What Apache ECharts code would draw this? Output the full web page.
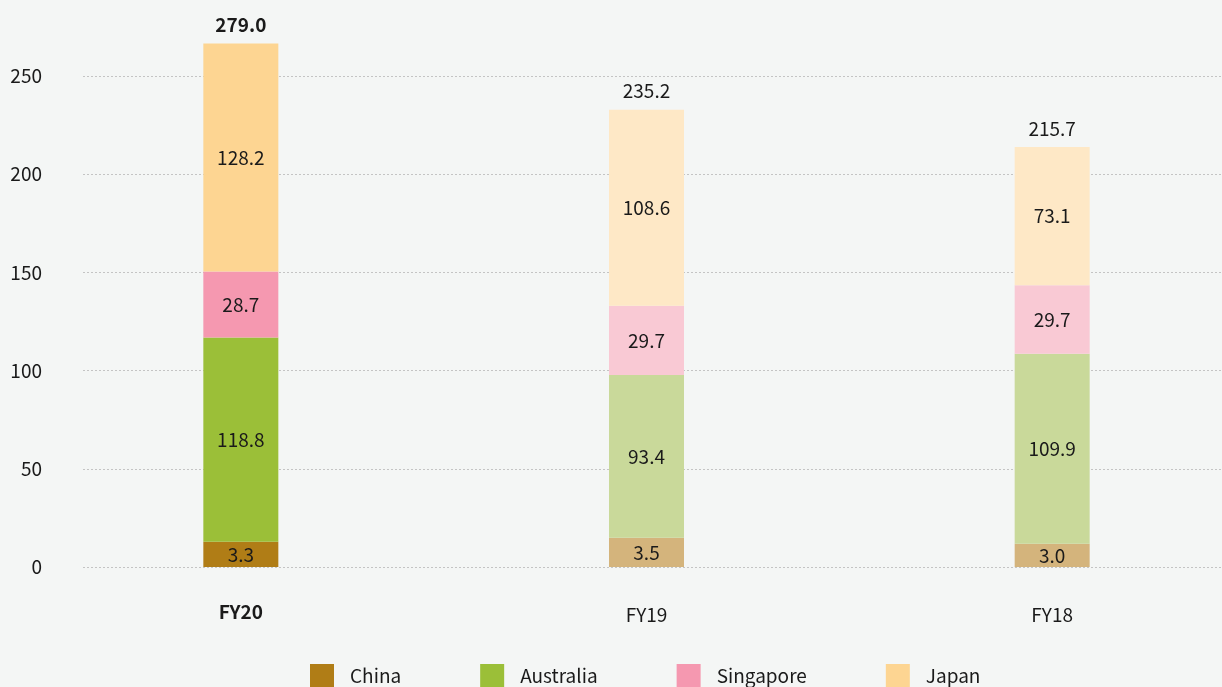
<!DOCTYPE html>
<html>
<head>
<meta charset="utf-8">
<script src="https://cdn.jsdelivr.net/npm/echarts@6/dist/echarts.min.js"></script>
<style>
    html, body { margin: 0; padding: 0; background: #f4f6f5; }
    #chart { width: 1222px; height: 687px; }
</style>
</head>
<body>
<div id="chart"></div>
<script>
    // categories (first one is highlighted)
    const years = ['FY20', 'FY19', 'FY18'];
    const regions = ['China', 'Australia', 'Singapore', 'Japan'];

    // segment heights as drawn in the picture
    const chinaBar = [12.9, 14.9, 11.9];
    const australiaBar = [103.9, 82.8, 96.7];
    const singaporeBar = [33.6, 35.3, 34.8];
    const japanBar = [116.1, 99.8, 70.5];

    // values printed on the segments
    const chinaLabel = [3.3, 3.5, 3.0];
    const australiaLabel = [118.8, 93.4, 109.9];
    const singaporeLabel = [28.7, 29.7, 29.7];
    const japanLabel = [128.2, 108.6, 73.1];

    // y axis ticks
    const yTicks = [0, 50, 100, 150, 200, 250];

    const strongColors = ['#b07d16', '#9bbf38', '#f598b0', '#fdd592'];
    const lightColors = ['#d4b47c', '#c9d99a', '#f9c9d4', '#fee8c6'];
    const fontName = 'Noto Sans CJK SC';

    const bars = [chinaBar, australiaBar, singaporeBar, japanBar];
    const labels = [chinaLabel, australiaLabel, singaporeLabel, japanLabel];
    // totals = sum of printed values
    const totals = years.map((y, i) => labels.reduce((s, arr) => s + arr[i], 0));

    let myChart = echarts.init(document.getElementById('chart'));

    let series = regions.map((name, k) => ({
        name: name,
        type: 'bar',
        stack: 'total',
        xAxisIndex: 1,
        yAxisIndex: 1,
        barWidth: 75,
        clip: false,
        itemStyle: { color: strongColors[k] },
        data: bars[k].map((v, i) => ({
            value: v,
            itemStyle: { color: i === 0 ? strongColors[k] : lightColors[k] }
        })),
        label: {
            show: true,
            position: 'inside',
            color: '#1a1a1a',
            fontFamily: fontName,
            fontSize: 19,
            formatter: p => labels[k][p.dataIndex].toFixed(1)
        },
        emphasis: { disabled: true }
    }));

    // helper series only for the total on top
    series.push({
        name: 'total',
        type: 'bar',
        stack: 'total',
        xAxisIndex: 1,
        yAxisIndex: 1,
        barWidth: 75,
        clip: false,
        data: totals.map(() => 0),
        itemStyle: { color: 'transparent' },
        label: {
            show: true,
            position: 'top',
            distance: 9,
            color: '#1a1a1a',
            fontFamily: fontName,
            fontSize: 19,
            formatter: p => p.dataIndex === 0
                ? '{b|' + totals[p.dataIndex].toFixed(1) + '}'
                : totals[p.dataIndex].toFixed(1),
            rich: {
                b: { fontWeight: 'bold', fontFamily: fontName, fontSize: 19, color: '#1a1a1a' }
            }
        },
        emphasis: { disabled: true }
    });

    let option = {
        backgroundColor: '#f4f6f5',
        animation: false,
        textStyle: { fontFamily: fontName },
        legend: {
            data: regions,
            left: 310,
            top: 664,
            padding: 0,
            itemWidth: 24,
            itemHeight: 24,
            itemGap: 79,
            icon: 'rect',
            selectedMode: false,
            textStyle: {
                color: '#1a1a1a',
                fontFamily: fontName,
                fontSize: 19,
                padding: [0, 0, 0, 11]
            }
        },
        grid: [
            { left: 83, right: 0, top: 76, bottom: 120, outerBoundsMode: 'none' },
            { left: 38, width: 1217, top: 76, bottom: 120, outerBoundsMode: 'none' }
        ],
        xAxis: [
            { type: 'category', gridIndex: 0, data: years, show: false },
            {
                type: 'category',
                gridIndex: 1,
                data: years,
                axisLine: { show: false },
                axisTick: { show: false },
                axisLabel: {
                    margin: 35,
                    formatter: (v, i) => i === 0 ? '{b|' + v + '}' : '{n|' + v + '}',
                    rich: {
                        b: { fontWeight: 'bold', fontSize: 19, lineHeight: 19, color: '#1a1a1a', fontFamily: fontName },
                        n: { fontSize: 19, lineHeight: 26, color: '#1a1a1a', fontFamily: fontName }
                    }
                }
            }
        ],
        yAxis: [
            {
                type: 'value',
                gridIndex: 0,
                min: yTicks[0],
                max: yTicks[yTicks.length - 1],
                interval: yTicks[1] - yTicks[0],
                axisLine: { show: false },
                axisTick: { show: false },
                axisLabel: {
                    margin: 41,
                    color: '#1a1a1a',
                    fontFamily: fontName,
                    fontSize: 19
                },
                splitLine: {
                    lineStyle: { color: '#c4c4c4', type: [2, 2], width: 1 }
                }
            },
            {
                type: 'value',
                gridIndex: 1,
                min: yTicks[0],
                max: yTicks[yTicks.length - 1],
                interval: yTicks[1] - yTicks[0],
                show: false,
                splitLine: { show: false }
            }
        ],
        series: series
    };
    myChart.setOption(option, true);
</script>
</body>
</html>
